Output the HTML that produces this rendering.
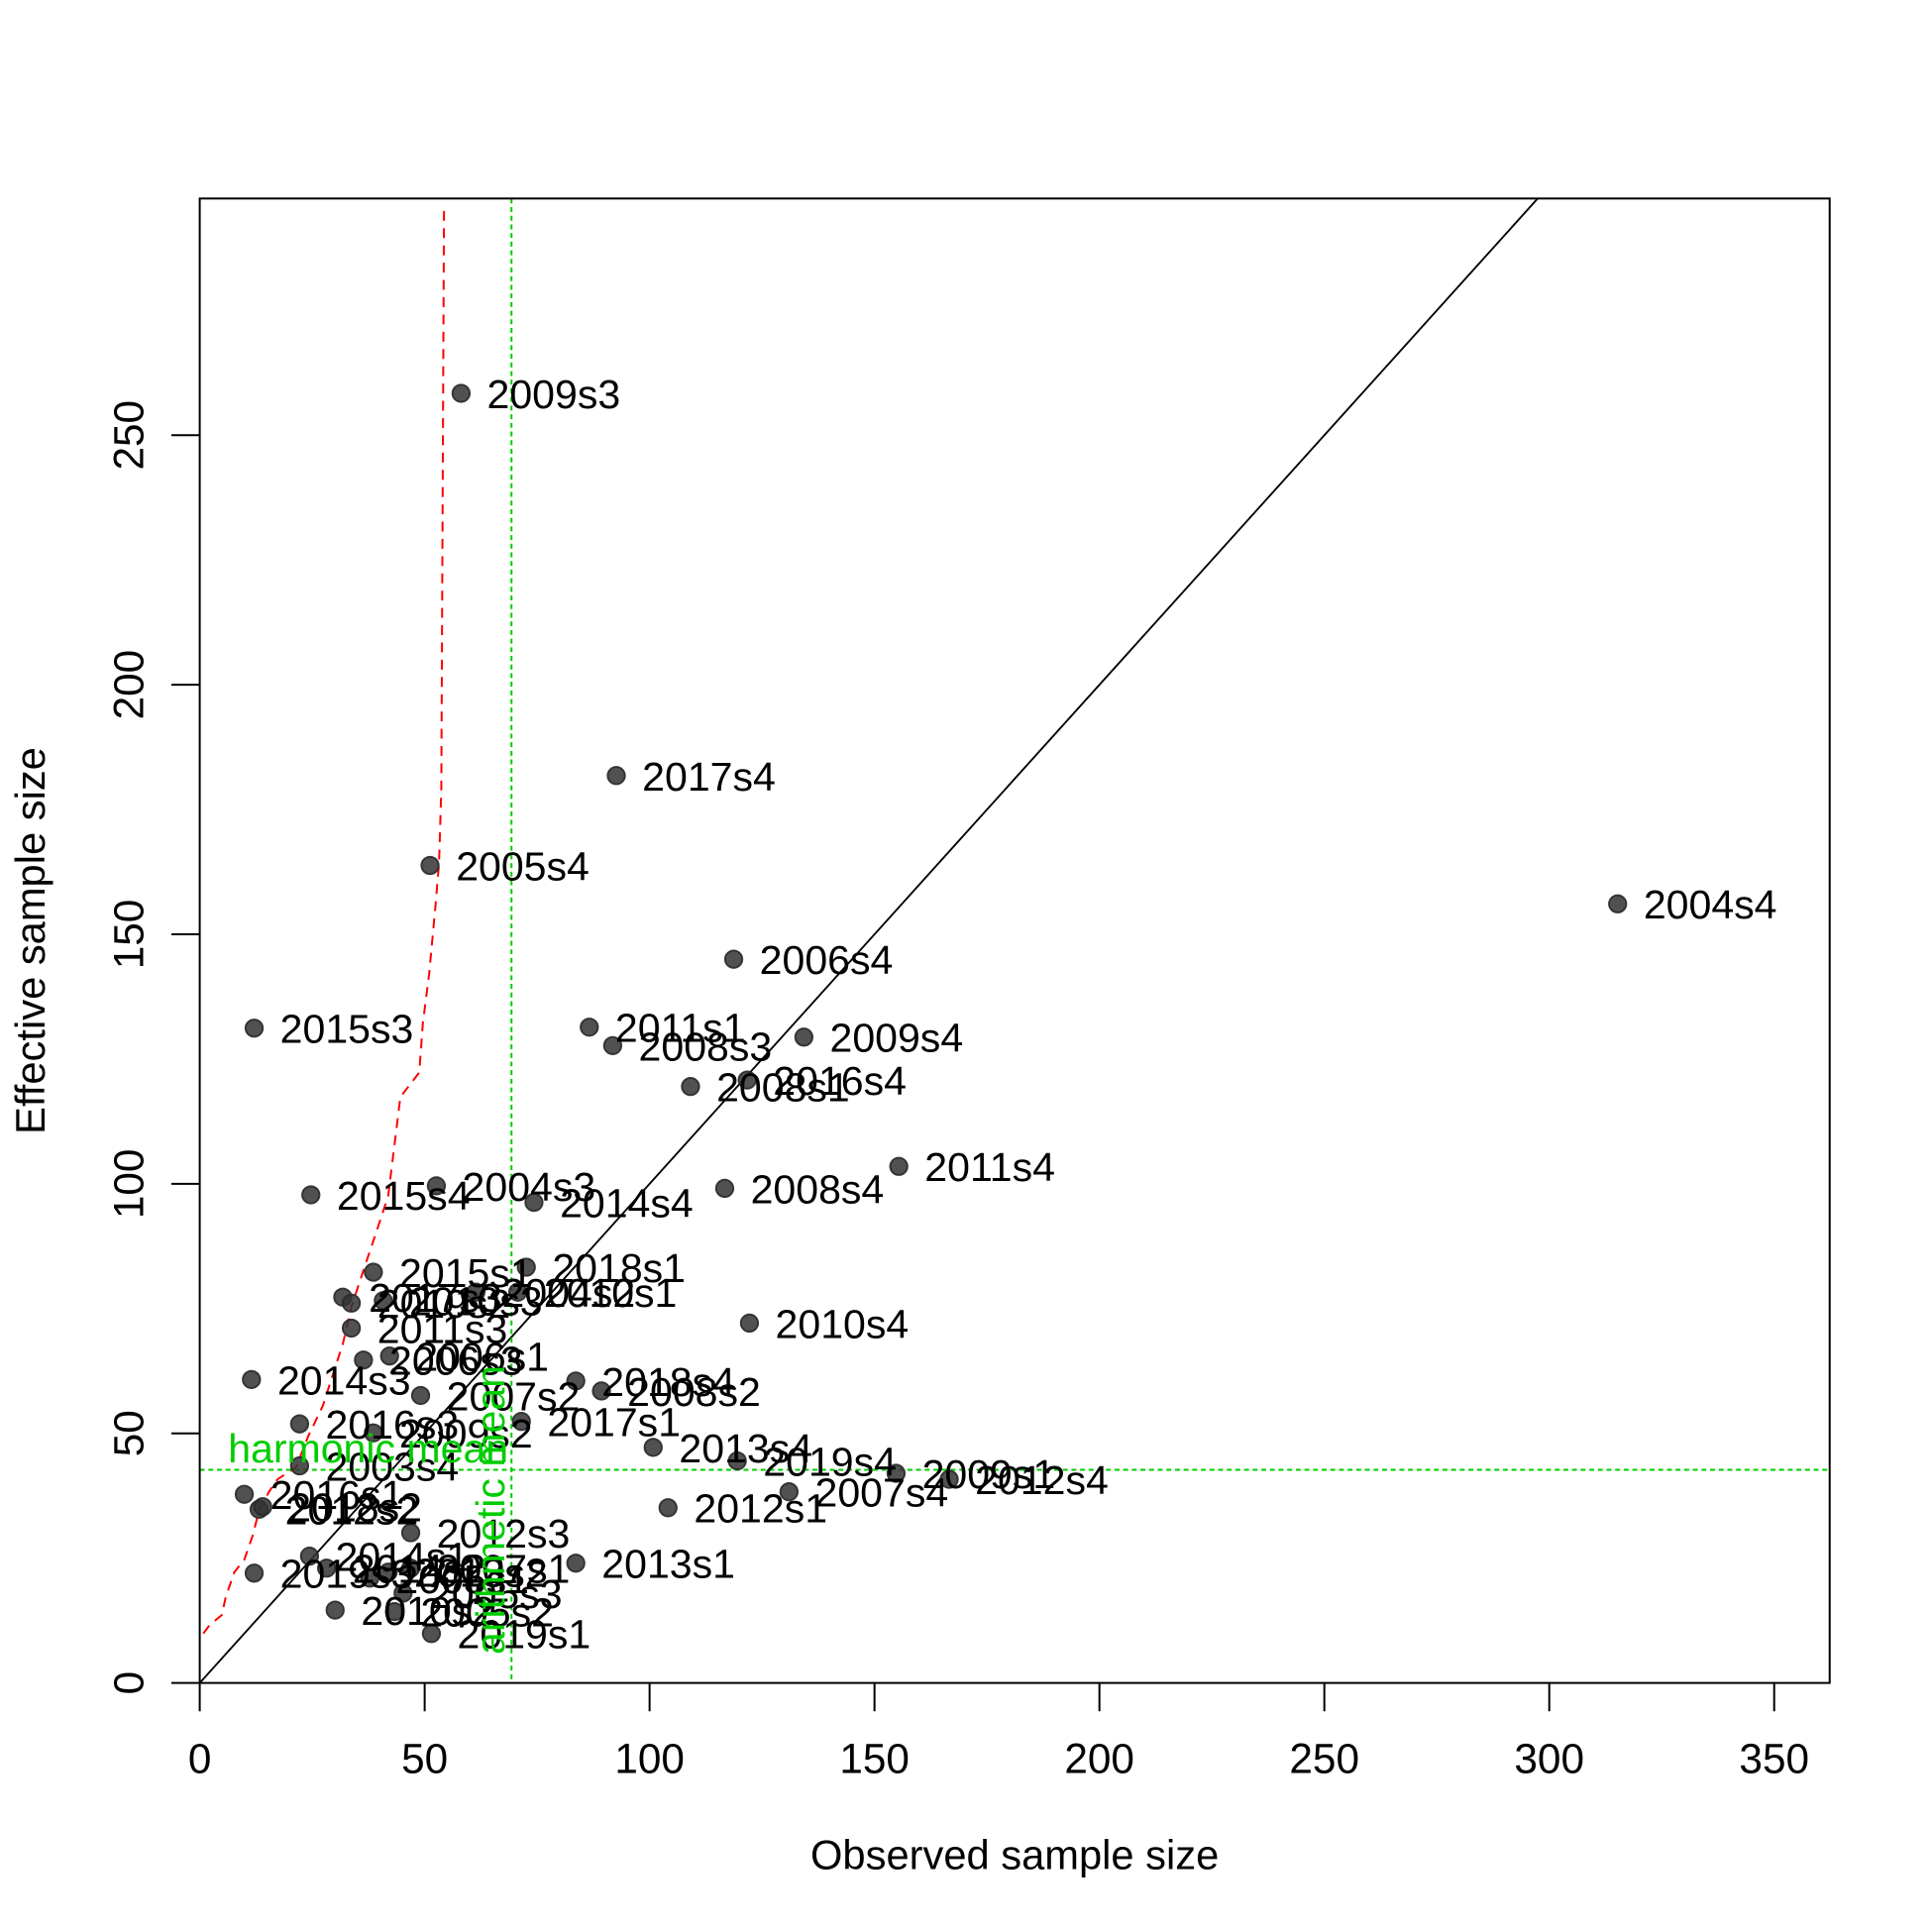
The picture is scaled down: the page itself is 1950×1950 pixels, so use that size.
<!DOCTYPE html>
<html><head><meta charset="utf-8"><style>
html,body{margin:0;padding:0;background:#fff}
svg{display:block;font-family:"Liberation Sans",Arial,sans-serif}
</style></head><body>
<svg id="chart" width="1950" height="1950" viewBox="0 0 1567 1567" xmlns="http://www.w3.org/2000/svg">
<rect x="0" y="0" width="1567" height="1567" fill="#fff"/>
<g id="plot"></g>
<rect x="162" y="161" width="1322" height="1204" fill="none" stroke="#000" stroke-width="1.6"/>
<text x="823" y="1516" font-size="33.5" text-anchor="middle">Observed sample size</text>
<text transform="translate(36,763) rotate(-90)" font-size="33.5" text-anchor="middle">Effective sample size</text>
</svg>
<script>
const xTicks = [0,50,100,150,200,250,300,350];
const yTicks = [0,50,100,150,200,250];
const labels = ["2009s3","2017s4","2005s4","2004s4","2006s4","2015s3","2011s1","2008s3","2009s4","2008s1","2016s4","2011s4","2008s4","2015s4","2004s3","2014s4","2018s1","2015s1","2010s4","2010s1","2017s3","2019s2","2010s3","2004s2","2011s3","2006s3","2006s1","2014s3","2018s4","2008s2","2007s2","2017s1","2016s3","2009s2","2013s4","2019s4","2003s4","2009s1","2012s4","2007s4","2016s1","2012s2","2018s2","2012s1","2012s3","2013s1","2014s1","2019s3","2014s2","2005s1","2013s2","2007s1","2010s2","2005s2","2005s3","2019s1"];
const obsX = [58.1,92.6,51.2,315.2,118.7,12.1,86.6,91.8,134.3,109.1,121.7,155.4,116.7,24.7,52.6,74.3,72.6,38.6,122.2,70.7,31.8,33.7,40.8,61.4,33.7,36.4,42.2,11.5,83.6,89.3,49.1,71.5,22.2,38.6,100.8,119.5,22.2,154.8,166.6,131.0,9.9,13.2,14.0,104.1,46.9,83.6,24.4,12.1,28.2,37.8,41.9,46.9,30.1,43.3,45.2,51.5];
const effY = [258.4,181.8,163.8,156.1,145.0,131.2,131.4,127.7,129.4,119.5,120.8,103.5,99.1,97.8,99.6,96.3,83.3,82.3,72.1,78.3,77.3,76.1,76.6,78.3,71.1,64.7,65.5,60.8,60.5,58.5,57.6,52.4,51.9,50.1,47.2,44.5,43.5,42.0,40.8,38.3,37.8,34.8,35.3,35.1,30.1,24.0,25.4,22.0,23.0,21.0,22.2,23.0,14.6,14.3,18.0,9.9];
const hmX = [0.8,2.2,4.9,5.8,7.7,9.9,11.8,13.2,15.4,17.3,21.4,24.1,27.4,29.6,31.8,33.7,36.4,39.2,41.9,44.6,48.8,49.6,51.0,52.4,53.2,53.7,54.3];
const hmY = [9.9,11.6,13.6,17.3,22.2,24.7,29.6,34.6,38.3,40.8,43.2,49.4,55.6,61.8,67.9,75.3,82.7,90.2,97.6,117.4,122.3,132.2,142.1,155.7,164.3,179.2,295];
const harmonicMean = 42.7;
const arithmeticMean = 69.3;

const NS="http://www.w3.org/2000/svg";
const X0=162,XPU=(1439-162)/350,Y0=1365,YPU=(1365-353)/250;
function sx(v){return X0+v*XPU;}
function sy(v){return Y0-v*YPU;}
const svg=document.getElementById('chart');
const plot=document.getElementById('plot');
function mk(tag,attrs,parent){const e=document.createElementNS(NS,tag);for(const k in attrs)e.setAttribute(k,attrs[k]);(parent||plot).appendChild(e);return e;}

xTicks.forEach(t=>{
  const l=mk('line',{x1:sx(t),x2:sx(t),y1:1365,y2:1388,stroke:'#000','stroke-width':1.6},svg);
  
  
  const tx=mk('text',{x:sx(t),y:1438,'font-size':34,'text-anchor':'middle'},svg);
  tx.textContent=t;
  
  
});
yTicks.forEach(t=>{
  const l=mk('line',{x1:139,x2:162,y1:sy(t),y2:sy(t),stroke:'#000','stroke-width':1.6},svg);
  
  
  const tx=mk('text',{transform:`translate(116,${sy(t)}) rotate(-90)`,'font-size':34,'text-anchor':'middle'},svg);
  tx.textContent=t;
  
  
});

const defs=mk('defs',{},svg);
const cp=mk('clipPath',{id:'clip'},defs);
mk('rect',{x:162,y:161,width:1322,height:1204},cp);
plot.setAttribute('clip-path','url(#clip)');

const idl=mk('line',{x1:sx(0),y1:sy(0),x2:sx(400),y2:sy(400),stroke:'#000','stroke-width':1.5});



const pts=hmX.map((v,i)=>sx(v)+','+sy(hmY[i])).join(' ');
const hc=mk('polyline',{points:pts,fill:'none',stroke:'#f00','stroke-width':1.6,'stroke-dasharray':'8,6'});



const hl=mk('line',{x1:162,x2:1484,y1:sy(harmonicMean),y2:sy(harmonicMean),stroke:'#00cd00','stroke-width':1.6,'stroke-dasharray':'4,3'});


const vl=mk('line',{x1:sx(arithmeticMean),x2:sx(arithmeticMean),y1:161,y2:1365,stroke:'#00cd00','stroke-width':1.6,'stroke-dasharray':'4,3'});



obsX.forEach((v,i)=>{
  const c=mk('circle',{cx:sx(v),cy:sy(effY[i]),r:7,fill:'rgba(50,50,50,0.85)',stroke:'rgba(40,40,40,0.9)','stroke-width':1.5});
  
  
});
obsX.forEach((v,i)=>{
  const t=mk('text',{x:sx(v)+21,y:sy(effY[i])+12,'font-size':33,fill:'#000'});
  t.textContent=labels[i];
  
  
});

const ht=mk('text',{x:185,y:sy(harmonicMean)-6,'font-size':33,fill:'#00cd00'});
ht.textContent='harmonic mean';


const at=mk('text',{transform:`translate(${sx(arithmeticMean)-6},1342) rotate(-90)`,'font-size':33,fill:'#00cd00'});
at.textContent='arithmetic mean';


</script>
</body></html>
